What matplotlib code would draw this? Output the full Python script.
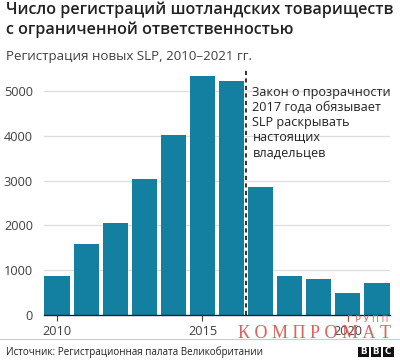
import matplotlib
matplotlib.use("Agg")
import matplotlib.pyplot as plt
from matplotlib.patches import Rectangle

years = [2010, 2011, 2012, 2013, 2014, 2015, 2016, 2017, 2018, 2019, 2020, 2021]
registrations = [880, 1590, 2060, 3030, 4020, 5340, 5220, 2850, 880, 800, 500, 720]
yticks = [0, 1000, 2000, 3000, 4000, 5000]
xticks = [2010, 2015, 2020]

title = "Число регистраций шотландских товариществ\nс ограниченной ответственностью"
subtitle = "Регистрация новых SLP, 2010–2021 гг."
note = "Закон о прозрачности\n2017 года обязывает\nSLP раскрывать\nнастоящих\nвладельцев"
source = "Источник: Регистрационная палата Великобритании"

plt.rcParams['font.family'] = ['Open Sans', 'DejaVu Sans']

W, H = 400, 361
fig = plt.figure(figsize=(W / 100, H / 100), dpi=100)
fig.patch.set_facecolor('white')

left, right, bottom_px, top_px = 44, 390, 315, 68.6
ax = fig.add_axes([left / W, (H - bottom_px) / H, (right - left) / W, (bottom_px - top_px) / H])

ax.bar(years, registrations, width=0.87, color='#1380A1', zorder=2)
ax.set_xlim(2009.55, 2021.45)
ax.set_ylim(0, 5500)
ax.set_yticks(yticks)
ax.set_xticks(xticks)
ax.yaxis.grid(True, color='#dddddd', linewidth=0.9, zorder=0)
ax.set_axisbelow(True)
for s in ['top', 'right', 'left']:
    ax.spines[s].set_visible(False)
ax.spines['bottom'].set_color('#222222')
ax.spines['bottom'].set_linewidth(1.0)
ax.spines['bottom'].set_zorder(3)
ax.tick_params(axis='y', length=0, labelsize=9.2, labelcolor='#404040', pad=8)
ax.tick_params(axis='x', length=4, width=0.8, color='#444444', labelsize=9.2, labelcolor='#404040', pad=3)

ax.axvline(2016.5, ymin=0, ymax=1.0, color='#111111', linestyle=(0, (2.5, 2)), linewidth=1.2, zorder=3)
ax.text(2016.72, 5120, note, fontsize=9.1, color='#222222', va='top', ha='left',
        linespacing=1.22, zorder=4)

fig.text(6 / W, 1 - 2 / H, title, fontsize=11.65, fontweight='semibold', color='#222222',
         va='top', ha='left', linespacing=1.22)
fig.text(6 / W, 1 - 50 / H, subtitle, fontsize=9.6, color='#404040', va='top', ha='left')

fig.add_artist(plt.Line2D([0, 1], [1 - 339 / H, 1 - 339 / H], transform=fig.transFigure,
                          color='#cccccc', linewidth=0.8))
fig.text(6 / W, 1 - 352 / H, source, fontsize=7.1, color='#222222', va='center', ha='left')

for i, ch in enumerate("BBC"):
    x0 = 358 + i * 12.5
    fig.add_artist(Rectangle((x0 / W, 1 - 357 / H), 10.5 / W, 10.5 / H,
                             transform=fig.transFigure, facecolor='#111111', edgecolor='none'))
    fig.text((x0 + 5.25) / W, 1 - 351.7 / H, ch, fontsize=6.3, fontweight='bold',
             color='white', ha='center', va='center', family='DejaVu Sans')

# watermark
fig.text(315 / W, 1 - 333 / H, "К О М П Р О М А Т", fontsize=13, color='#d9534f',
         ha='center', va='center', family='Liberation Serif', alpha=0.9)
fig.text(368 / W, 1 - 319 / H, "Г Р У П П", fontsize=6.5, color='#d9534f',
         ha='center', va='center', family='DejaVu Sans', alpha=0.9)

fig.savefig('out.png', dpi=100, facecolor='white')
